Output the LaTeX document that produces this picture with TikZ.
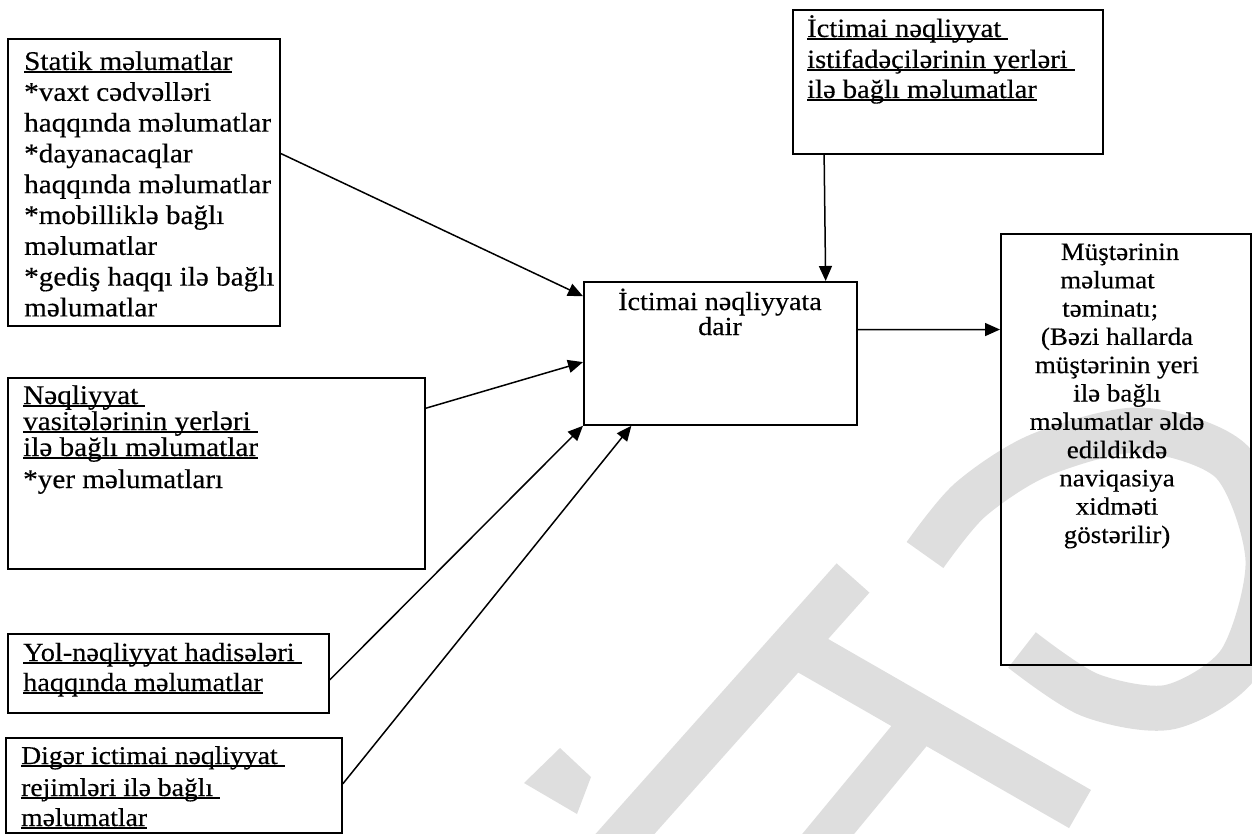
\documentclass[tikz,border=0pt]{standalone}
\usepackage{fontspec}
\setmainfont{Liberation Serif}[FakeStretch=1.08,FakeBold=0.35]
\usetikzlibrary{arrows.meta,calc}

% underline at a fixed depth, running through descenders
\newsavebox\ulinebox
\newcommand\uln[1]{\sbox\ulinebox{#1}\rlap{\rule[-0.11em]{\wd\ulinebox}{0.065em}}\usebox\ulinebox}

\begin{document}
\begin{tikzpicture}[x=1pt,y=-1pt,
  box/.style={draw, line width=1.8pt, rectangle, inner sep=0pt, anchor=north west},
  tsize/.style={font=\fontsize{#1}{30}\selectfont},
  txt/.style={inner sep=0pt, anchor=base west, tsize=27},
  ctxt/.style={txt, anchor=base},
  arr/.style={line width=1.5pt, -{Triangle[length=15pt,width=13pt]}},
  wm/.style={draw=black!13, line cap=butt},
  wmfill/.style={fill=black!13}]
\useasboundingbox (0,0) rectangle (1252,834);
\clip (0,0) rectangle (1252,834);

% light background stamp
\fill[wmfill] (560,748) -- (591,777) -- (577,814) -- (524,783) -- cycle;
\draw[wm, line width=44pt] (853,578) -- (600,862);
\draw[wm, line width=44pt] (791,643) -- (1080,809);
\draw[wm, line width=40pt] (914,730) -- (805,862);
\draw[wm, line width=45pt] plot[smooth] coordinates {(1022,650) (1090,695) (1170,707) (1240,662) (1268,560) (1232,462) (1140,430) (1040,455) (970,500) (925,555)};

% boxes
\node[box, minimum width=272pt, minimum height=287pt] (b1) at (7,38) {};
\node[box, minimum width=417pt, minimum height=191pt] (b2) at (7,377) {};
\node[box, minimum width=321pt, minimum height=79pt]  (b3) at (7,633) {};
\node[box, minimum width=336pt, minimum height=95pt]  (b4) at (5,737) {};
\node[box, minimum width=273pt, minimum height=143pt] (c)  at (583,281) {};
\node[box, minimum width=310pt, minimum height=144pt] (t)  at (792,9) {};
\node[box, minimum width=250pt, minimum height=431pt] (r)  at (1000,233) {};

% static data
\foreach \s [count=\i] in {{\uln{Statik məlumatlar}}, {*vaxt cədvəlləri}, {haqqında məlumatlar},
    {*dayanacaqlar}, {haqqında məlumatlar}, {*mobilliklə bağlı}, {məlumatlar},
    {*gediş haqqı ilə bağlı}, {məlumatlar}}
  \node[txt] (b1l\i) at (24,{70+30.8*(\i-1)}) {\s};

% vehicle locations
\node[txt] (b2l1) at (23,404) {\uln{Nəqliyyat\ }};
\node[txt] (b2l2) at (23,430) {\uln{vasitələrinin yerləri\ }};
\node[txt] (b2l3) at (23,456) {\uln{ilə bağlı məlumatlar}};
\node[txt] (b2l4) at (23,488) {*yer məlumatları};

% incidents
\node[txt, tsize=26.2] (b3l1) at (23,661) {\uln{Yol-nəqliyyat hadisələri\ }};
\node[txt, tsize=26.2] (b3l2) at (23,691) {\uln{haqqında məlumatlar}};

% other modes
\node[txt, tsize=25.6] (b4l1) at (21,764) {\uln{Digər ictimai nəqliyyat\ }};
\node[txt, tsize=25.6] (b4l2) at (21,796) {\uln{rejimləri ilə bağlı\ }};
\node[txt, tsize=25.6] (b4l3) at (21,826) {\uln{məlumatlar}};

% centre
\node[ctxt, tsize=26] (cl1) at (720,310) {İctimai nəqliyyata};
\node[ctxt, tsize=26] (cl2) at (720,335) {dair};

% user locations
\node[txt, tsize=26.4] (tl1) at (807,37) {\uln{İctimai nəqliyyat\ }};
\node[txt, tsize=26.4] (tl2) at (807,68) {\uln{istifadəçilərinin yerləri\ }};
\node[txt, tsize=26.4] (tl3) at (807,98) {\uln{ilə bağlı məlumatlar}};

% customer output
\node[ctxt, tsize=25] (rl1) at (1120,260) {Müştərinin};
\node[txt, tsize=25]  (rl2) at (1060,288.3) {məlumat};
\node[txt, tsize=25]  (rl3) at (1062,316.7) {təminatı;};
\foreach \s [count=\i from 4] in {{(Bəzi hallarda}, {müştərinin yeri}, {ilə bağlı},
    {məlumatlar əldə}, {edildikdə}, {naviqasiya}, {xidməti}, {göstərilir)}}
  \node[ctxt, tsize=25] (rl\i) at (1117,{260+28.3*(\i-1)}) {\s};

% connectors
\draw[arr] ($(b1.north east)!0.40!(b1.south east)$) -- ($(c.north west)!0.105!(c.south west)$);
\draw[arr] ($(b2.north east)!0.162!(b2.south east)$) -- ($(c.north west)!0.56!(c.south west)$);
\draw[arr] ($(b3.north east)!0.58!(b3.south east)$) -- (c.south west);
\draw[arr] ($(b4.north east)!0.484!(b4.south east)$) -- ($(c.south west)!0.176!(c.south east)$);
\draw[arr] ($(t.south west)!0.103!(t.south east)$) -- ($(c.north west)!0.883!(c.north east)$);
\draw[arr] ($(c.north east)!0.336!(c.south east)$) -- ($(r.north west)!0.223!(r.south west)$);
\end{tikzpicture}
\end{document}
